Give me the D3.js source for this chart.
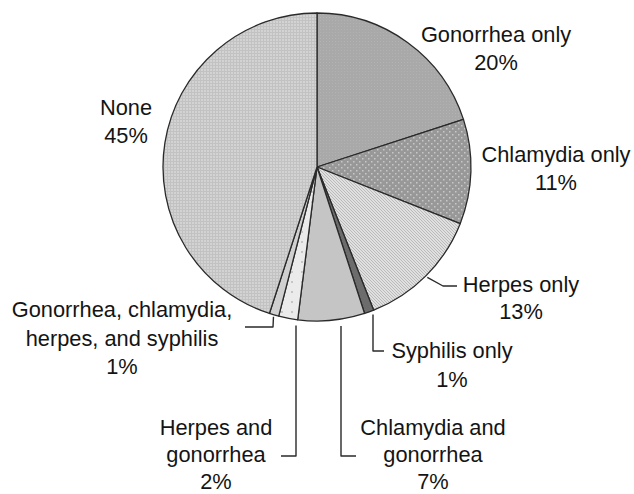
<!DOCTYPE html>
<html><head><meta charset="utf-8">
<script src="https://cdn.jsdelivr.net/npm/d3@7"></script>
<style>
body{margin:0;background:#fff}
text{font-family:"Liberation Sans",Arial,Helvetica,sans-serif;font-size:21.8px;fill:#141414}
</style>
</head><body>
<svg id="c" width="634" height="494"></svg>
<script>
// ---- data ----
const categories = [
  "Gonorrhea only",
  "Chlamydia only",
  "Herpes only",
  "Syphilis only",
  "Chlamydia and gonorrhea",
  "Herpes and gonorrhea",
  "Gonorrhea, chlamydia, herpes, and syphilis",
  "None"
];
const values = [20, 11, 13, 1, 7, 2, 1, 45];
const labelLines = [
  ["Gonorrhea only"],
  ["Chlamydia only"],
  ["Herpes only"],
  ["Syphilis only"],
  ["Chlamydia and", "gonorrhea"],
  ["Herpes and", "gonorrhea"],
  ["Gonorrhea, chlamydia,", "herpes, and syphilis"],
  ["None"]
];

// ---- layout ----
const W = 634, H = 494;
const cx = 317, cy = 167, R = 154;
const fills = ["url(#pG)", "url(#pC)", "url(#pH)", "#6c6c6c", "#c5c5c5", "url(#pHG)", "#d0d0d0", "url(#pN)"];
// label anchors: [centerX, firstBaseline, lineHeight]
const labelPos = [
  [496, 42, 28],
  [556, 162, 28],
  [521, 292, 27],
  [452, 358, 29],
  [433, 435, 27],
  [216, 435, 27],
  [122, 317, 28.5],
  [126, 115, 28]
];

const svg = d3.select("#c");
const defs = svg.append("defs");

// Patterns
function pat(id, w, h, bg, draw) {
  const p = defs.append("pattern").attr("id", id).attr("patternUnits", "userSpaceOnUse")
    .attr("width", w).attr("height", h);
  p.append("rect").attr("width", w).attr("height", h).attr("fill", bg);
  draw(p);
}
pat("pG", 3, 3, "#a9a9a9", p => {
  p.append("rect").attr("x", 0).attr("y", 0).attr("width", 1).attr("height", 1).attr("fill", "#b2b2b2");
});
pat("pC", 6, 6, "#989898", p => {
  p.append("rect").attr("x", 0).attr("y", 0).attr("width", 1.5).attr("height", 1.5).attr("fill", "#c8c8c8");
  p.append("rect").attr("x", 3).attr("y", 3).attr("width", 1.5).attr("height", 1.5).attr("fill", "#c8c8c8");
});
pat("pH", 3, 3, "#e0e0e0", p => {
  p.append("path").attr("d", "M-1,-1 L4,4 M-1,2 L1,4 M2,-1 L4,1").attr("stroke", "#b6b6b6").attr("stroke-width", 0.9);
});
pat("pN", 3, 3, "#d3d3d3", p => {
  p.append("rect").attr("x", 0).attr("y", 0).attr("width", 3).attr("height", 1).attr("fill", "#c2c2c2");
  p.append("rect").attr("x", 0).attr("y", 0).attr("width", 1).attr("height", 3).attr("fill", "#c2c2c2");
});
pat("pHG", 10, 10, "#ebebeb", p => {
  p.append("circle").attr("cx", 5).attr("cy", 5).attr("r", 1).attr("fill", "#b8b8b8");
});

const data = categories.map((c, i) => ({ name: c, value: values[i], i }));
const pie = d3.pie().value(d => d.value).sort(null).startAngle(0).endAngle(2 * Math.PI);
const arcs = pie(data);
const arc = d3.arc().innerRadius(0).outerRadius(R);

const g = svg.append("g").attr("transform", `translate(${cx},${cy})`);
g.selectAll("path.slice").data(arcs).join("path")
  .attr("class", "slice")
  .attr("d", arc)
  .attr("fill", d => fills[d.data.i])
  .attr("stroke", "#2a2a2a")
  .attr("stroke-width", 1.3)
  .attr("stroke-linejoin", "round");

// helpers for leader lines (derived from pie geometry)
const mid = a => (a.startAngle + a.endAngle) / 2;
const edge = (ang, r) => [cx + r * Math.sin(ang), cy - r * Math.cos(ang)];
const arcYAtX = x => cy + Math.sqrt(R * R - (x - cx) * (x - cx));

const leaders = [];
// Herpes only
{ const s = edge(mid(arcs[2]), R + 2); leaders.push([s, [443, 286], [457, 286]]); }
// Syphilis only
{ const x = 373; leaders.push([[x, arcYAtX(x) + 4], [x, 351], [384, 351]]); }
// Chlamydia and gonorrhea
{ const x = 341; leaders.push([[x, arcYAtX(x) + 7], [x, 456], [356, 456]]); }
// Herpes and gonorrhea
{ const x = 296; leaders.push([[x, arcYAtX(x) + 6], [x, 456], [281, 456]]); }
// All four
{ const s = edge(mid(arcs[6]), R + 2); leaders.push([s, [273, 327], [245, 327]]); }

svg.append("g").selectAll("path").data(leaders).join("path")
  .attr("d", d => d3.line()(d))
  .attr("fill", "none")
  .attr("stroke", "#2a2a2a")
  .attr("stroke-width", 1.4)
  .attr("stroke-linejoin", "round");

// labels
const lg = svg.append("g");
arcs.forEach(a => {
  const i = a.data.i;
  const [x, y0, lh] = labelPos[i];
  const lines = labelLines[i].concat([`${values[i]}%`]);
  const t = lg.append("text").attr("text-anchor", "middle");
  lines.forEach((ln, k) => {
    t.append("tspan").attr("x", x).attr("y", y0 + k * lh).text(ln);
  });
});
</script>
</body></html>
